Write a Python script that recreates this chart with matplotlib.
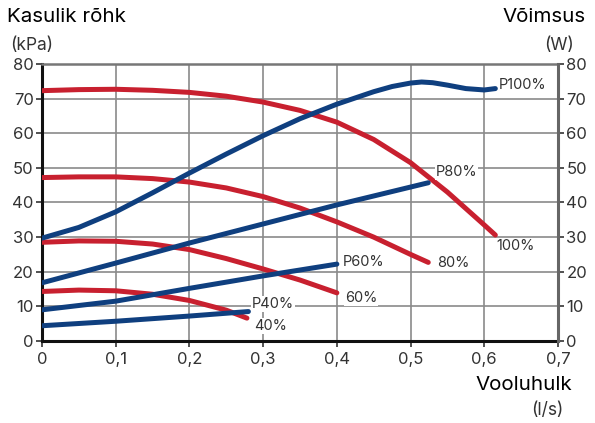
import matplotlib
matplotlib.use("Agg")
import matplotlib.pyplot as plt
from matplotlib.ticker import MultipleLocator, FuncFormatter

plt.rcParams["font.family"] = ["Inter", "DejaVu Sans"]

RED = "#c8202f"
BLUE = "#0f3f7f"
TXT = "#333333"

# pressure curves (kPa) vs flow (l/s)
p100_x = [0, 0.05, 0.1, 0.15, 0.2, 0.25, 0.3, 0.35, 0.4, 0.45, 0.5, 0.55, 0.6, 0.615]
p100_y = [72.3, 72.6, 72.7, 72.4, 71.8, 70.7, 69.0, 66.6, 63.2, 58.2, 51.5, 43.0, 33.5, 30.6]
p80_x = [0, 0.05, 0.1, 0.15, 0.2, 0.25, 0.3, 0.35, 0.4, 0.45, 0.5, 0.524]
p80_y = [47.2, 47.4, 47.4, 46.9, 45.9, 44.2, 41.7, 38.4, 34.4, 30.0, 25.0, 22.7]
p60_x = [0, 0.05, 0.1, 0.15, 0.2, 0.25, 0.3, 0.35, 0.4]
p60_y = [28.5, 28.9, 28.8, 28.0, 26.4, 23.8, 20.8, 17.6, 13.9]
p40_x = [0, 0.05, 0.1, 0.15, 0.2, 0.25, 0.278]
p40_y = [14.3, 14.7, 14.5, 13.5, 11.7, 8.9, 6.6]

# power curves (W) vs flow (l/s)
w100_x = [0, 0.05, 0.1, 0.15, 0.2, 0.25, 0.3, 0.35, 0.4, 0.45, 0.475, 0.5, 0.515,
          0.53, 0.55, 0.575, 0.6, 0.615]
w100_y = [29.7, 32.8, 37.3, 42.8, 48.5, 54.0, 59.3, 64.2, 68.4, 72.0, 73.5, 74.5, 74.8,
          74.6, 73.9, 72.9, 72.5, 72.9]
w80_x = [0, 0.1, 0.2, 0.3, 0.4, 0.524]
w80_y = [16.8, 22.5, 28.3, 33.8, 39.3, 45.7]
w60_x = [0, 0.1, 0.2, 0.3, 0.4]
w60_y = [9.0, 11.5, 15.2, 18.8, 22.2]
w40_x = [0, 0.1, 0.2, 0.28]
w40_y = [4.4, 5.7, 7.2, 8.5]

red_curves = [(p100_x, p100_y, "100%"), (p80_x, p80_y, "80%"),
              (p60_x, p60_y, "60%"), (p40_x, p40_y, "40%")]
blue_curves = [(w100_x, w100_y, "P100%"), (w80_x, w80_y, "P80%"),
               (w60_x, w60_y, "P60%"), (w40_x, w40_y, "P40%")]

# label offsets in data units (dx, dy) from curve end
red_offsets = {"100%": (0.001, -3.2), "80%": (0.012, -0.2), "60%": (0.011, -1.5), "40%": (0.01, -2.3)}
blue_offsets = {"P100%": (0.004, 1.0), "P80%": (0.01, 3.1), "P60%": (0.008, 0.6), "P40%": (0.005, 2.2)}

fig = plt.figure(figsize=(5.95, 4.23), dpi=100)
ax = fig.add_axes([0.0706, 0.1939, 0.8672, 0.6548])

ax.set_xlim(0, 0.7)
ax.set_ylim(0, 80)
ax.xaxis.set_major_locator(MultipleLocator(0.1))
ax.yaxis.set_major_locator(MultipleLocator(10))
ax.xaxis.set_major_formatter(FuncFormatter(lambda v, p: ("%g" % round(v, 1)).replace(".", ",")))
ax.grid(True, color="#8a8a8a", linewidth=1.2)
ax.set_axisbelow(True)

for x, y, lab in red_curves:
    ax.plot(x, y, color=RED, linewidth=3.6, solid_capstyle="round",
            solid_joinstyle="round", zorder=3)
for x, y, lab in blue_curves:
    ax.plot(x, y, color=BLUE, linewidth=3.6, solid_capstyle="round",
            solid_joinstyle="round", zorder=4)

for x, y, lab in red_curves:
    dx, dy = red_offsets[lab]
    ax.text(x[-1] + dx, y[-1] + dy, lab, fontsize=10.5, color=TXT, va="center", ha="left",
            bbox=dict(facecolor="white", edgecolor="none", pad=0.5), zorder=5)
for x, y, lab in blue_curves:
    dx, dy = blue_offsets[lab]
    ax.text(x[-1] + dx, y[-1] + dy, lab, fontsize=10.5, color=TXT, va="center", ha="left",
            bbox=dict(facecolor="white", edgecolor="none", pad=0.5), zorder=5)

ax2 = ax.twinx()
ax2.set_ylim(0, 80)
ax2.yaxis.set_major_locator(MultipleLocator(10))

for a in (ax, ax2):
    a.tick_params(labelsize=12, colors=TXT, length=4, width=1.2, pad=2)
ax.tick_params(axis="x", pad=4)

ax.spines["left"].set_color("#111111")
ax.spines["left"].set_linewidth(2.2)
ax.spines["bottom"].set_color("#111111")
ax.spines["bottom"].set_linewidth(2.2)
ax.spines["top"].set_color("#777777")
ax.spines["top"].set_linewidth(1.8)
ax2.spines["right"].set_color("#666666")
ax2.spines["right"].set_linewidth(2.2)
for s in ("left", "bottom", "top"):
    ax2.spines[s].set_visible(False)
ax.spines["right"].set_visible(False)

fig.text(7 / 595, 1 - 17 / 423, "Kasulik rõhk", fontsize=14.8, color="black", va="center", ha="left")
fig.text(10 / 595, 1 - 45 / 423, "(kPa)", fontsize=12.5, color=TXT, va="center", ha="left")
fig.text(586 / 595, 1 - 17 / 423, "Võimsus", fontsize=14.8, color="black", va="center", ha="right")
fig.text(574 / 595, 1 - 45 / 423, "(W)", fontsize=12.5, color=TXT, va="center", ha="right")
fig.text(572 / 595, 1 - 385 / 423, "Vooluhulk", fontsize=14.8, color="black", va="center", ha="right")
fig.text(563 / 595, 1 - 410 / 423, "(l/s)", fontsize=12.5, color=TXT, va="center", ha="right")

fig.savefig("out.png", dpi=100)
